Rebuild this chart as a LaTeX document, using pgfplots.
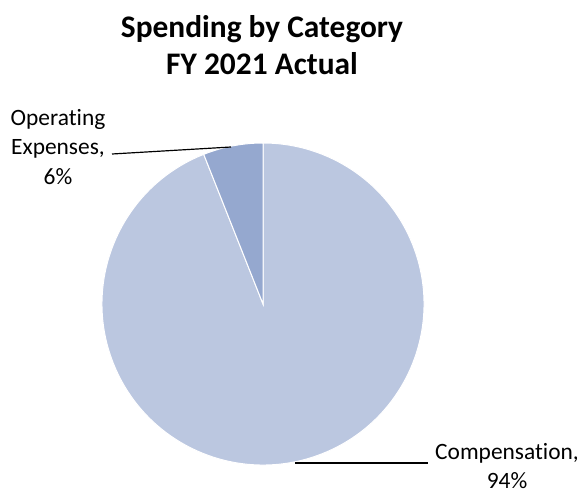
\documentclass[border=0pt]{standalone}
\usepackage{pgfplots}
\pgfplotsset{compat=1.18}
\usepackage{pgfplotstable}
\usepackage{fontspec}
\setmainfont{Carlito}[Ligatures={NoCommon}]
\definecolor{comp}{RGB}{187,199,224}
\definecolor{opex}{RGB}{149,168,207}

% share of spending, percent
\pgfplotstableread{
cat   share
Comp  94
Opex  6
}\spending

\begin{document}
\begin{tikzpicture}
\pgfplotstablegetelem{1}{share}\of\spending
\pgfmathsetmacro{\opexend}{90+3.6*\pgfplotsretval}
\begin{axis}[
    hide axis,
    scale only axis,
    width=582bp, height=494bp,
    xmin=0, xmax=582, ymin=0, ymax=494,
    y dir=reverse,
    clip=false,
]
% pie, centre (263,304), radius 161
\fill[comp, draw=white, line width=1pt] (axis cs:263,304) -- ++(\opexend:161bp)
    arc[start angle=\opexend, end angle=450, radius=161bp] -- cycle;
\fill[opex, draw=white, line width=1pt] (axis cs:263,304) -- ++(90:161bp)
    arc[start angle=90, end angle=\opexend, radius=161bp] -- cycle;

% leader lines
\draw[black, line width=1.2pt] (axis cs:112,154) -- (axis cs:231,147);
\draw[black, line width=1.2pt] (axis cs:295,463) -- (axis cs:428,463);

% labels
\node[align=center, font=\fontsize{23.5}{30}\selectfont] at (axis cs:58,147)
    {Operating\\Expenses,\\6\%};
\node[align=center, inner sep=1pt, font=\fontsize{23.5}{29}\selectfont] at (axis cs:507,466)
    {Compensation,\\94\%};

% title
\node[align=center, font=\bfseries\fontsize{31.5}{37}\selectfont] at (axis cs:262,45)
    {Spending by Category\\FY 2021 Actual};
\end{axis}
\pgfresetboundingbox
\path[use as bounding box] (current axis.south west) rectangle (current axis.north east);
\end{tikzpicture}
\end{document}
